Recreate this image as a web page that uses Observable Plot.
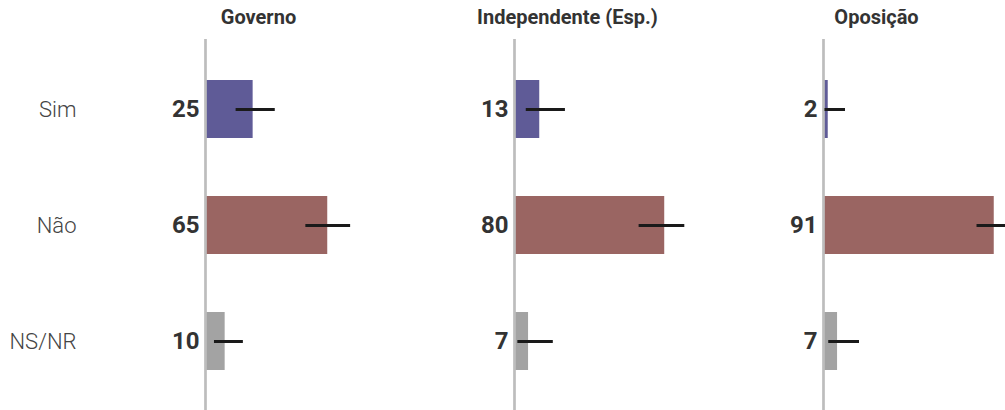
<!DOCTYPE html>
<html>
<head>
<meta charset="utf-8">
<script src="https://cdn.jsdelivr.net/npm/d3@7"></script>
<script src="https://cdn.jsdelivr.net/npm/@observablehq/plot@0.6"></script>
<style>
  html, body { margin: 0; padding: 0; background: #fff; }
  #chart svg { display: block; }
</style>
</head>
<body>
<div id="chart"></div>
<script>
const groups = ["Governo", "Independente (Esp.)", "Oposição"];
const answers = ["Sim", "Não", "NS/NR"];
const governo = [25, 65, 10];
const independente = [13, 80, 7];
const oposicao = [2, 91, 7];
const governoLo = [15.6, 53, 4];
const governoHi = [36.6, 77, 19.5];
const independenteLo = [5.5, 66, 1];
const independenteHi = [26.5, 90.5, 20];
const oposicaoLo = [0, 81.5, 2];
const oposicaoHi = [11, 101, 18.5];
const colors = ["#5f5b97", "#9a6562", "#a3a3a3"];

const series = [
  [governo, governoLo, governoHi],
  [independente, independenteLo, independenteHi],
  [oposicao, oposicaoLo, oposicaoHi]
];
const data = [];
groups.forEach((g, gi) => {
  answers.forEach((a, ai) => {
    data.push({group: g, answer: a, value: series[gi][0][ai], lo: series[gi][1][ai], hi: series[gi][2][ai]});
  });
});

const chart = Plot.plot({
  width: 1005,
  height: 410,
  marginLeft: 205,
  marginRight: 0,
  marginTop: 44,
  marginBottom: 5,
  style: {fontFamily: "Roboto, 'Noto Sans', sans-serif", background: "#fff"},
  fx: {domain: groups, paddingInner: 0.416, paddingOuter: 0, label: null},
  x: {domain: [0, 96.5], axis: null},
  y: {domain: answers, paddingInner: 0.5, paddingOuter: 0.3, label: null},
  color: {domain: answers, range: colors},
  marks: [
    Plot.axisFx({anchor: "top", tickSize: 0, tickPadding: 21, dx: -38, fontSize: 20, fontWeight: "bold", fill: "#333", label: null}),
    Plot.axisY({anchor: "left", tickSize: 0, tickPadding: 130, fontSize: 22, fontWeight: 300, fill: "#444", label: null}),
    Plot.barX(data, {fx: "group", y: "answer", x: "value", fill: "answer"}),
    Plot.ruleX([0], {stroke: "#bdbdbd", strokeWidth: 2.7, insetTop: -5, insetBottom: -6, dx: -1}),
    Plot.link(data, {fx: "group", y1: "answer", y2: "answer", x1: "lo", x2: "hi", stroke: "#1a1a1a", strokeWidth: 3}),
    Plot.text(data, {fx: "group", y: "answer", x: 0, text: d => String(d.value), textAnchor: "end", dx: -7, fontSize: 24, fontWeight: "bold", fill: "#333"})
  ]
});
document.getElementById("chart").appendChild(chart);
</script>
</body>
</html>
